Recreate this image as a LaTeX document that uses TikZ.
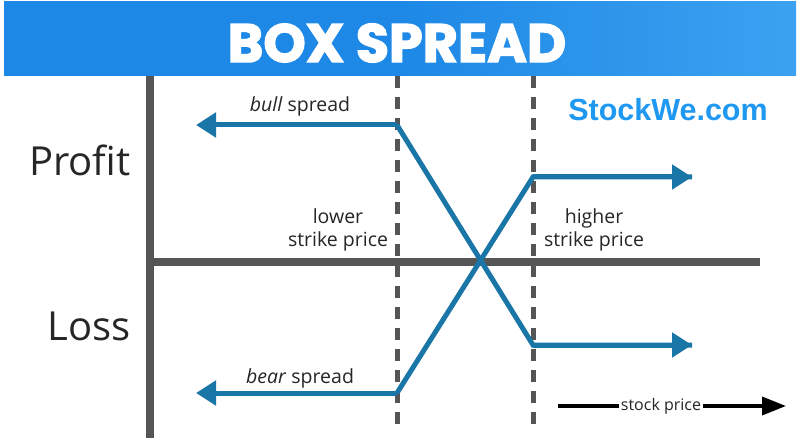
\documentclass[tikz,border=0pt]{standalone}
\usepackage{fontspec}
\setmainfont{Open Sans}
\newfontfamily\logofont{Liberation Sans}
\newfontfamily\titlefont[FakeBold=2.5]{Poppins}
\usetikzlibrary{arrows.meta}
\definecolor{banner}{HTML}{1E88E6}
\definecolor{bannerlight}{HTML}{3AA2F0}
\definecolor{axisgray}{HTML}{555555}
\definecolor{spreadblue}{HTML}{1B76A8}
\definecolor{logoblue}{HTML}{1E98F0}
\tikzset{
  axisline/.style={draw=axisgray, line width=8pt},
  strikeline/.style={draw=axisgray, line width=5pt, dash pattern=on 12pt off 9pt},
  spreadline/.style={draw=spreadblue, line width=5pt, line join=miter},
  spreadarrow/.style={spreadline, -{Triangle[length=20pt,width=24pt]}},
  lbl/.style={font=\fontsize{19.5}{23}\selectfont, text=black!85, align=center, inner sep=0pt},
  big/.style={font=\fontsize{40}{44}\selectfont, text=black!85, inner sep=0pt},
}
\begin{document}
\begin{tikzpicture}[x=1pt,y=-1pt]
\useasboundingbox (0,0) rectangle (800,438);
\fill[white] (0,0) rectangle (800,438);
% banner
\fill[left color=banner, right color=bannerlight, middle color=banner] (4,2) rectangle (796,76);
\node[text=white, inner sep=0pt, font=\titlefont\bfseries\fontsize{54}{58}\selectfont] (title) at (397,43) {BOX SPREAD};
% axes
\coordinate (vtop) at (150,76);
\coordinate (vbot) at (150,438);
\coordinate (hl) at (146,262);
\coordinate (hr) at (760,262);
\draw[axisline] (vtop) -- (vbot);
\draw[axisline] (hl) -- (hr);
% strike lines
\coordinate (s1top) at (397,76);
\coordinate (s1bot) at (397,432);
\coordinate (s2top) at (533,76);
\coordinate (s2bot) at (533,432);
\draw[strikeline] (s1top) -- (s1bot);
\draw[strikeline] (s2top) -- (s2bot);
% spreads
\coordinate (bullL) at (196,125);
\coordinate (bullK) at (397,125);
\coordinate (bullH) at (533,345);
\coordinate (bullR) at (692,345);
\coordinate (bearL) at (196,393);
\coordinate (bearK) at (397,393);
\coordinate (bearH) at (533,177);
\coordinate (bearR) at (692,177);
\draw[spreadline] (bullK) -- (bullH) -- (bullR);
\draw[spreadarrow] (bullK) -- (bullL);
\draw[spreadarrow] (bullH) -- (bullR);
\draw[spreadline] (bearK) -- (bearH) -- (bearR);
\draw[spreadarrow] (bearK) -- (bearL);
\draw[spreadarrow] (bearH) -- (bearR);
% labels
\node[big] (profit) at (80,160) {Profit};
\node[big] (loss) at (89,326) {Loss};
\node[lbl] (bull) at (300,106) {\textit{bull} spread};
\node[lbl] (bear) at (300,378) {\textit{bear} spread};
\node[lbl] (lower) at (338,230) {lower\\strike price};
\node[lbl] (higher) at (594,230) {higher\\strike price};
\node[text=logoblue, inner sep=0pt, font=\logofont\bfseries\fontsize{30.5}{34}\selectfont] (logo) at (668,110) {StockWe.com};
% stock price arrow
\node[inner sep=2pt, font=\fontsize{16}{18}\selectfont, text=black!85] (sp) at (661,406) {stock price};
\coordinate (spL) at (558,406);
\coordinate (spR) at (786,406);
\draw[line width=3.5pt] (spL) -- (sp.west);
\draw[line width=3.5pt, -{Triangle[length=24pt,width=18pt]}] (sp.east) -- (spR);
\end{tikzpicture}
\end{document}
